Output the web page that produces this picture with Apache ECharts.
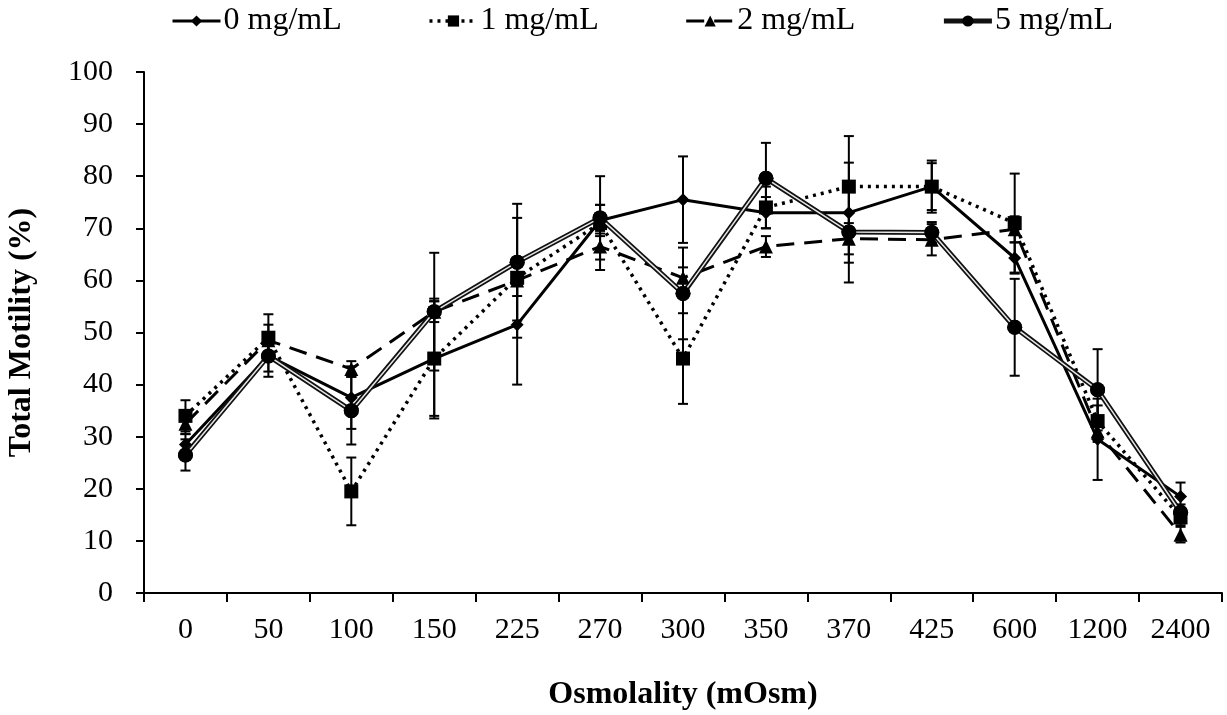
<!DOCTYPE html>
<html>
<head>
<meta charset="utf-8">
<script src="https://cdn.jsdelivr.net/npm/echarts@6/dist/echarts.min.js"></script>
<style>
  html, body { margin: 0; padding: 0; background: #fff; }
  #main { width: 1227px; height: 715px; }
</style>
</head>
<body>
<div id="main"></div>
<script>
var categories = ['0', '50', '100', '150', '225', '270', '300', '350', '370', '425', '600', '1200', '2400']

// mean total motility (%)
var mg0 = [28.5, 45.5, 37.5, 45, 51.5, 71.5, 75.5, 73, 73, 78, 64.3, 29.5, 18.5]
var mg1 = [34, 49, 19.5, 45, 60.5, 71, 45, 74, 78, 78, 71, 33, 14.5]
var mg2 = [32.5, 48.5, 43, 54, 60, 66.5, 60.5, 66.5, 68, 67.8, 69.8, 31, 11.2]
var mg5 = [26.5, 45.5, 35, 54, 63.5, 72, 57.5, 79.6, 69.3, 69.2, 51, 39, 15.5]

// error bars (+/-)
var err0 = [2, 4, 6, 11.5, 11.5, 3, 8.3, 3, 9.6, 5, 3, 7.8, 2.7]
var err1 = [3, 4.5, 6.5, 11, 11.5, 9, 8.7, 4, 9.7, 4.5, 9.5, 3, 1.5]
var err2 = [2, 3, 1.5, 2, 3, 2.5, 2, 2, 3, 3, 2.5, 2, 1.5]
var err5 = [3, 3, 6.5, 11.3, 11.2, 2.5, 8.8, 6.8, 9.7, 2, 9.3, 7.8, 1.5]

var serif = 'Liberation Serif'

function errData(vals, errs) {
  return vals.map(function (v, i) { return [i, v - errs[i], v + errs[i]] })
}

function renderErr(params, api) {
  var lo = api.coord([api.value(0), api.value(1)])
  var hi = api.coord([api.value(0), api.value(2)])
  var w = 5
  var st = { stroke: '#000', lineWidth: 2 }
  return {
    type: 'group',
    children: [
      { type: 'line', shape: { x1: hi[0], y1: hi[1], x2: lo[0], y2: lo[1] }, style: st },
      { type: 'line', shape: { x1: hi[0] - w, y1: hi[1], x2: hi[0] + w, y2: hi[1] }, style: st },
      { type: 'line', shape: { x1: lo[0] - w, y1: lo[1], x2: lo[0] + w, y2: lo[1] }, style: st },
    ],
  }
}

function errSeries(vals, errs) {
  return {
    type: 'custom',
    renderItem: renderErr,
    data: errData(vals, errs),
    encode: { x: 0, y: [1, 2] },
    z: 1,
    silent: true,
  }
}

var myChart = echarts.init(document.getElementById('main'))
var option = {
  animation: false,
  backgroundColor: '#fff',
  legend: {
    top: 0,
    left: 166,
    itemGap: 86,
    itemWidth: 48,
    itemHeight: 14,
    data: [
      { name: '0 mg/mL', lineStyle: { width: 3 } },
      { name: '1 mg/mL', lineStyle: { width: 3.5 } },
      { name: '2 mg/mL', lineStyle: { width: 3 } },
      { name: '5 mg/mL', lineStyle: { width: 5 } },
    ],
    textStyle: { fontFamily: serif, fontSize: 32, color: '#000', padding: [0, 0, 0, -2] },
  },
  grid: { left: 144, right: 5, top: 72, bottom: 122, containLabel: false, outerBoundsMode: 'none' },
  xAxis: {
    type: 'category',
    data: categories,
    boundaryGap: true,
    name: 'Osmolality (mOsm)',
    nameLocation: 'middle',
    nameGap: 86,
    nameTextStyle: { fontFamily: serif, fontSize: 32, fontWeight: 'bold', color: '#000' },
    axisLine: { lineStyle: { color: '#000', width: 2 } },
    axisTick: { show: true, length: 9, lineStyle: { color: '#000', width: 2 } },
    axisLabel: { fontFamily: serif, fontSize: 30, color: '#000', margin: 22 },
  },
  yAxis: {
    type: 'value',
    min: 0,
    max: 100,
    interval: 10,
    name: 'Total Motility (%)',
    nameLocation: 'middle',
    nameGap: 106,
    nameTextStyle: { fontFamily: serif, fontSize: 32, fontWeight: 'bold', color: '#000' },
    axisLine: { show: true, lineStyle: { color: '#000', width: 2 } },
    axisTick: { show: true, length: 8, lineStyle: { color: '#000', width: 2 } },
    axisLabel: { fontFamily: serif, fontSize: 30, color: '#000', margin: 31 },
    splitLine: { show: false },
  },
  series: [
    errSeries(mg0, err0),
    errSeries(mg1, err1),
    errSeries(mg2, err2),
    errSeries(mg5, err5),
    {
      name: '0 mg/mL',
      type: 'line',
      data: mg0,
      symbol: 'diamond',
      symbolSize: 13,
      z: 3,
      itemStyle: { color: '#000' },
      lineStyle: { color: '#000', width: 3 },
    },
    {
      name: '1 mg/mL',
      type: 'line',
      data: mg1,
      symbol: 'rect',
      symbolSize: 14,
      z: 3,
      itemStyle: { color: '#000' },
      lineStyle: { color: '#000', width: 3.5, type: [3, 5] },
    },
    {
      name: '2 mg/mL',
      type: 'line',
      data: mg2,
      symbol: 'triangle',
      symbolSize: 14,
      z: 3,
      itemStyle: { color: '#000' },
      lineStyle: { color: '#000', width: 3, type: [18, 10] },
    },
    {
      name: '5 mg/mL',
      type: 'line',
      data: mg5,
      symbol: 'circle',
      symbolSize: 15,
      z: 3,
      itemStyle: { color: '#000' },
      lineStyle: { color: '#111', width: 5 },
    },
    {
      // inner light stroke to get the double-line look
      name: '5 mg/mL inner',
      type: 'line',
      data: mg5,
      symbol: 'none',
      z: 4,
      silent: true,
      lineStyle: { color: '#e6e6e6', width: 1.5 },
    },
    {
      name: '5 mg/mL dots',
      type: 'line',
      data: mg5,
      symbol: 'circle',
      symbolSize: 15,
      z: 5,
      silent: true,
      itemStyle: { color: '#000' },
      lineStyle: { width: 0, opacity: 0 },
    },
  ],
}
option && myChart.setOption(option)
</script>
</body>
</html>
